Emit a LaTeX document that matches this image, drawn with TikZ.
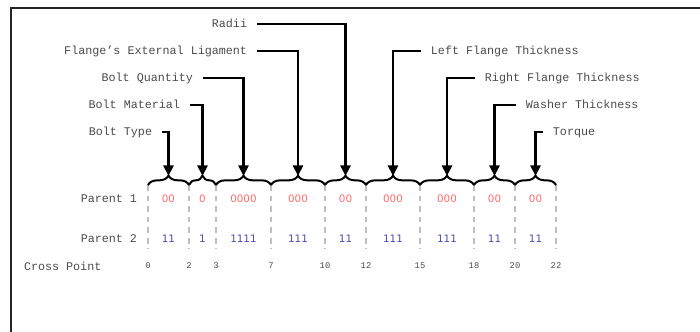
\documentclass[tikz,border=0pt]{standalone}
\usepackage{fontspec}
\setmainfont{Liberation Mono}
\newfontfamily\bitfont{DejaVu Sans}
\usetikzlibrary{arrows.meta,decorations.pathreplacing,positioning}
\definecolor{bitred}{RGB}{255,105,105}
\definecolor{bitblue}{RGB}{75,75,175}
\definecolor{txtgray}{RGB}{75,75,75}
\tikzset{
	lbl/.style={font=\fontsize{10}{12}\selectfont, text=txtgray, inner sep=0pt, outer xsep=8.5pt, text height=1.5ex, text depth=.25ex},
	lblL/.style={lbl, anchor=east},
	lblR/.style={lbl, anchor=west},
	num/.style={font=\fontsize{7.5}{9}\selectfont, text=txtgray, inner sep=0pt},
	bitA/.style={font=\bitfont\fontsize{8.8}{10}\selectfont, text=bitred, inner sep=0pt},
	bitB/.style={font=\bitfont\fontsize{8.8}{10}\selectfont, text=bitblue, inner sep=0pt},
	cut/.style={draw=black!25, line width=1.6pt, dash pattern=on 5pt off 4pt},
	brc/.style={decorate, decoration={brace, amplitude=8pt}, line width=1.7pt},
	arr/.style={-{Triangle[width=8.5pt,length=9pt]}, line width=2.1pt}
}
\begin{document}
\begin{tikzpicture}[x=0.03cm, y=-0.03cm]
			\useasboundingbox (0,0) rectangle (700,331);
			\clip (0,0) rectangle (700,331);
			\draw[line width=2.2pt, black!85] (11,8) rectangle (730,360);
			\foreach \x/\n [count=\i from 0] in {148/0,189/2,216/3,271/7,325/10,366/12,420/15,474/18,515/20,556/22} {
				\coordinate (b\i) at (\x,185);
				\draw[cut] (b\i) -- (\x,249);
				\node[num] (n\i) at (\x,266) {\n};
			}
			\foreach \m/\p/\q [count=\i, evaluate=\i as \j using int(\i-1)] in {168.5/00/11,202.5/0/1,243.5/0000/1111,298/000/111,345.5/00/11,393/000/111,447/000/111,494.5/00/11,535.5/00/11} {
				\draw[brc] (b\j) -- (b\i);
				\coordinate (t\i) at (\m,176);
				\node[bitA] (p\i) at (\m,199) {\p};
				\node[bitB] (q\i) at (\m,239) {\q};
			}
			\node[lbl, anchor=east, outer xsep=0pt] (par1) at (137,199) {Parent 1};
			\node[lbl, anchor=east, outer xsep=0pt] (par2) at (137,239) {Parent 2};
			\node[lbl, anchor=west, outer xsep=0pt] (cross) at (24,267) {Cross Point};
			\node[lblL] (btype) at (162,132) {Bolt Type};
			\node[lblL] (bmat) at (190,105) {Bolt Material};
			\node[lblL] (bqty) at (203,78) {Bolt Quantity};
			\node[lblL] (flig) at (257,51) {Flange’s External Ligament};
			\node[lblL] (radii) at (257,24) {Radii};
			\node[lblR] (lflange) at (421,51) {Left Flange Thickness};
			\node[lblR] (rflange) at (475,78) {Right Flange Thickness};
			\node[lblR] (washer) at (516,105) {Washer Thickness};
			\node[lblR] (torque) at (543,132) {Torque};
			\draw[arr] (btype) -| (t1);
			\draw[arr] (bmat) -| (t2);
			\draw[arr] (bqty) -| (t3);
			\draw[arr] (flig) -| (t4);
			\draw[arr] (radii) -| (t5);
			\draw[arr] (lflange) -| (t6);
			\draw[arr] (rflange) -| (t7);
			\draw[arr] (washer) -| (t8);
			\draw[arr] (torque) -| (t9);
		\end{tikzpicture}
\end{document}
